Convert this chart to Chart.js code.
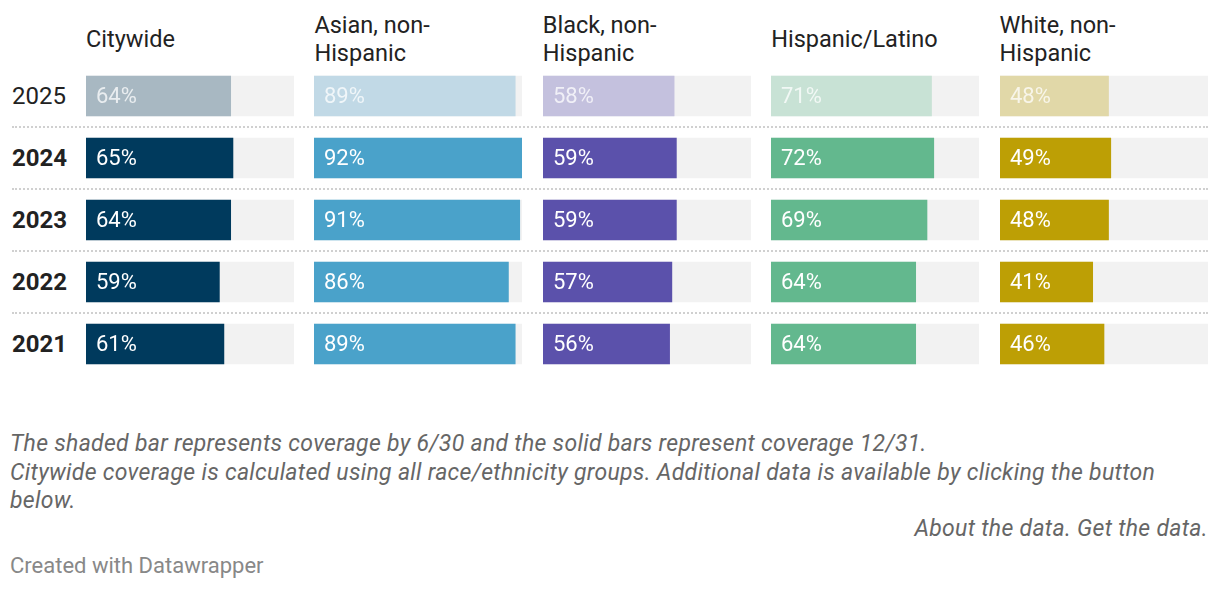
<!DOCTYPE html>
<html>
<head>
<meta charset="utf-8">
<script src="https://cdn.jsdelivr.net/npm/chart.js@4"></script>
<style>
    body { margin: 0; background: #fff; font-family: Roboto, sans-serif; color: #222; }
    #wrap { position: relative; width: 1220px; height: 590px; overflow: hidden; }
    .head { position: absolute; top: 10.5px; height: 56px; display: flex; align-items: center; font-size: 23.5px; line-height: 28px; color: #222; }
    .year { position: absolute; left: 12px; font-size: 24px; line-height: 30px; color: #222; }
    .sep { position: absolute; left: 12px; width: 1196px; height: 0; border-top: 2px dotted #d0d0d0; }
    .panel { position: absolute; top: 65px; }
    .note { position: absolute; left: 10px; font-size: 23px; font-style: italic; color: #666; line-height: 28.5px; white-space: nowrap; letter-spacing: 0.3px; }
</style>
</head>
<body>
<div id="wrap"></div>
<script>
// Data
const years = ['2025', '2024', '2023', '2022', '2021'];
const groups = ['Citywide', 'Asian, non-<br>Hispanic', 'Black, non-<br>Hispanic', 'Hispanic/Latino', 'White, non-<br>Hispanic'];
const citywide = [64, 65, 64, 59, 61];
const asian = [89, 92, 91, 86, 89];
const black = [58, 59, 59, 57, 56];
const hispanic = [71, 72, 69, 64, 64];
const white = [48, 49, 48, 41, 46];
const axisMax = 92;

const series = [citywide, asian, black, hispanic, white];
const solidColors = ['#003a5d', '#4aa2ca', '#5b51ab', '#63b88e', '#bd9f05'];
const shadedColors = ['#a8b8c2', '#c1d9e6', '#c4c1de', '#c8e2d5', '#e1d8a8'];

const wrap = document.getElementById('wrap');
const panelLeft = 86, panelW = 208.4, panelGap = 20;
const rowTop = 65, rowH = 62;

// year labels + separators
years.forEach((y, i) => {
    const el = document.createElement('div');
    el.className = 'year';
    el.style.top = (rowTop + i * rowH + rowH / 2 - 15) + 'px';
    el.style.fontWeight = i === 0 ? 'normal' : 'bold';
    el.innerText = y;
    wrap.appendChild(el);
    if (i > 0) {
        const s = document.createElement('div');
        s.className = 'sep';
        s.style.top = (rowTop + i * rowH - 1) + 'px';
        wrap.appendChild(s);
    }
});

// value labels inside bars
const labelPlugin = {
    id: 'barLabels',
    afterDatasetsDraw(chart) {
        const ctx = chart.ctx;
        const meta = chart.getDatasetMeta(1);
        ctx.save();
        ctx.font = '22px Roboto';
        ctx.textBaseline = 'middle';
        meta.data.forEach((bar, i) => {
            ctx.fillStyle = i === 0 ? 'rgba(255,255,255,0.75)' : '#fff';
            ctx.fillText(chart.data.datasets[1].data[i] + '%', bar.base + 10, bar.y + 1);
        });
        ctx.restore();
    }
};

series.forEach((vals, g) => {
    const left = panelLeft + g * (panelW + panelGap);

    const h = document.createElement('div');
    h.className = 'head';
    h.style.left = left + 'px';
    h.innerHTML = groups[g];
    wrap.appendChild(h);

    const c = document.createElement('canvas');
    c.className = 'panel';
    c.style.left = left + 'px';
    c.width = Math.round(panelW);
    c.height = years.length * rowH;
    wrap.appendChild(c);

    new Chart(c, {
        type: 'bar',
        data: {
            labels: years,
            datasets: [{
                data: years.map(() => axisMax),
                backgroundColor: '#f2f2f2',
                grouped: false,
                order: 2,
                barThickness: 40
            }, {
                data: vals,
                backgroundColor: vals.map((v, i) => i === 0 ? shadedColors[g] : solidColors[g]),
                grouped: false,
                order: 1,
                barThickness: 40
            }]
        },
        options: {
            indexAxis: 'y',
            responsive: false,
            animation: false,
            layout: { padding: 0 },
            plugins: { legend: { display: false }, tooltip: { enabled: false } },
            scales: {
                x: { display: false, min: 0, max: axisMax },
                y: { display: false, offset: true }
            }
        },
        plugins: [labelPlugin]
    });
});

// footer notes
const notes = [
    { top: 430, text: 'The shaded bar represents coverage by 6/30 and the solid bars represent coverage 12/31.' },
    { top: 458.5, text: 'Citywide coverage is calculated using all race/ethnicity groups. Additional data is available by clicking the button<br>below.' }
];
notes.forEach(n => {
    const el = document.createElement('div');
    el.className = 'note';
    el.style.top = n.top + 'px';
    el.innerHTML = n.text;
    wrap.appendChild(el);
});
const about = document.createElement('div');
about.className = 'note';
about.style.top = '515px';
about.style.left = 'auto';
about.style.right = '12px';
about.innerText = 'About the data. Get the data.';
wrap.appendChild(about);

const credit = document.createElement('div');
credit.style.cssText = 'position:absolute;left:10px;top:552px;font-size:22px;color:#888;line-height:28px;';
credit.innerText = 'Created with Datawrapper';
wrap.appendChild(credit);
</script>
</body>
</html>
